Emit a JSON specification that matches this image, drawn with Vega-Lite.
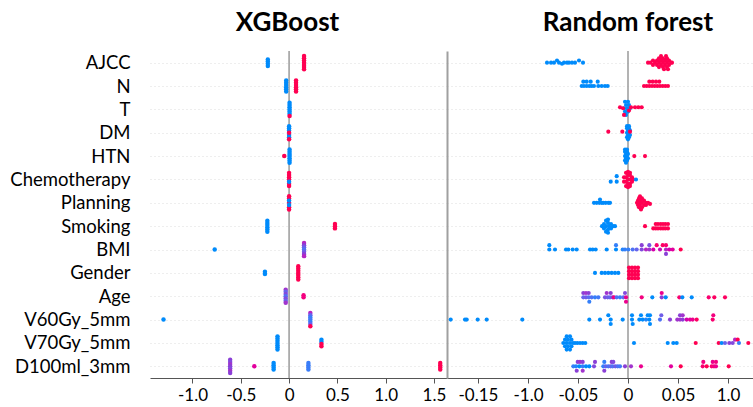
{
"$schema": "https://vega.github.io/schema/vega-lite/v6.json",
"background": "white",
"padding": {"left": 5, "right": 0, "top": 10, "bottom": 0},
"spacing": 0,
"config": {"view": {"stroke": null}, "font": "Lato"},
"resolve": {"scale": {"x": "independent", "y": "shared", "color": "shared", "yOffset": "shared"}},
"datasets": {
"xgb": [
{"f":"AJCC","x":-0.22,"v":0,"k":-1.5},{"f":"AJCC","x":-0.22,"v":0,"k":-0.5},{"f":"AJCC","x":-0.22,"v":0,"k":0.5},{"f":"AJCC","x":-0.22,"v":0,"k":1.5},
{"f":"AJCC","x":0.155,"v":1,"k":-3},{"f":"AJCC","x":0.155,"v":1,"k":-2},{"f":"AJCC","x":0.155,"v":1,"k":-1},{"f":"AJCC","x":0.155,"v":1,"k":0},{"f":"AJCC","x":0.155,"v":1,"k":1},{"f":"AJCC","x":0.155,"v":1,"k":2},{"f":"AJCC","x":0.155,"v":1,"k":3},
{"f":"N","x":-0.03,"v":0,"k":-2.5},{"f":"N","x":-0.03,"v":0,"k":-1.5},{"f":"N","x":-0.03,"v":0,"k":-0.5},{"f":"N","x":-0.03,"v":0,"k":0.5},{"f":"N","x":-0.03,"v":0,"k":1.5},{"f":"N","x":-0.03,"v":0,"k":2.5},
{"f":"N","x":0.072,"v":1,"k":-2.5},{"f":"N","x":0.072,"v":1,"k":-1.5},{"f":"N","x":0.072,"v":1,"k":-0.5},{"f":"N","x":0.072,"v":1,"k":0.5},{"f":"N","x":0.072,"v":1,"k":1.5},{"f":"N","x":0.072,"v":1,"k":2.5},
{"f":"T","x":0.005,"v":0,"k":-3},{"f":"T","x":0.005,"v":0,"k":-2},{"f":"T","x":0.005,"v":0,"k":-1},{"f":"T","x":0.005,"v":0,"k":0},{"f":"T","x":0.005,"v":0,"k":1},{"f":"T","x":0.005,"v":0,"k":2},{"f":"T","x":0.005,"v":1,"k":3},
{"f":"DM","x":0.0,"v":0,"k":-3},{"f":"DM","x":0.0,"v":0,"k":-2},{"f":"DM","x":0.0,"v":0,"k":-1},{"f":"DM","x":0.0,"v":0,"k":1},{"f":"DM","x":0.0,"v":0,"k":2},{"f":"DM","x":0.0,"v":1,"k":0},{"f":"DM","x":0.0,"v":1,"k":3},
{"f":"HTN","x":0.005,"v":0,"k":-3},{"f":"HTN","x":0.005,"v":0,"k":-2},{"f":"HTN","x":0.005,"v":0,"k":-1},{"f":"HTN","x":0.005,"v":0,"k":0},{"f":"HTN","x":0.005,"v":0,"k":1},{"f":"HTN","x":0.005,"v":0,"k":2},{"f":"HTN","x":0.005,"v":0,"k":3},{"f":"HTN","x":-0.05,"v":1,"k":0},
{"f":"Chemotherapy","x":0.0,"v":1,"k":-3},{"f":"Chemotherapy","x":0.0,"v":1,"k":-2},{"f":"Chemotherapy","x":0.0,"v":1,"k":-1},{"f":"Chemotherapy","x":0.0,"v":1,"k":0},{"f":"Chemotherapy","x":0.0,"v":1,"k":2},{"f":"Chemotherapy","x":0.0,"v":1,"k":3},{"f":"Chemotherapy","x":0.0,"v":0,"k":1},
{"f":"Planning","x":0.0,"v":1,"k":-3},{"f":"Planning","x":0.0,"v":1,"k":-2},{"f":"Planning","x":0.0,"v":1,"k":0},{"f":"Planning","x":0.0,"v":1,"k":2},{"f":"Planning","x":0.0,"v":1,"k":3},{"f":"Planning","x":0.0,"v":0,"k":-1},{"f":"Planning","x":0.0,"v":0,"k":1},
{"f":"Smoking","x":-0.225,"v":0,"k":-2.5},{"f":"Smoking","x":-0.225,"v":0,"k":-1.5},{"f":"Smoking","x":-0.225,"v":0,"k":-0.5},{"f":"Smoking","x":-0.225,"v":0,"k":0.5},{"f":"Smoking","x":-0.225,"v":0,"k":1.5},{"f":"Smoking","x":-0.225,"v":0,"k":2.5},
{"f":"Smoking","x":0.475,"v":1,"k":-1},{"f":"Smoking","x":0.475,"v":1,"k":0},{"f":"Smoking","x":0.475,"v":1,"k":1},
{"f":"BMI","x":-0.77,"v":0,"k":0},
{"f":"BMI","x":0.155,"v":0.6,"k":-3},{"f":"BMI","x":0.155,"v":0.5,"k":-2},{"f":"BMI","x":0.155,"v":0.35,"k":-1},{"f":"BMI","x":0.155,"v":0.2,"k":0},{"f":"BMI","x":0.155,"v":0.35,"k":1},{"f":"BMI","x":0.155,"v":0.5,"k":2},{"f":"BMI","x":0.155,"v":0.6,"k":3},
{"f":"Gender","x":-0.25,"v":0,"k":-0.5},{"f":"Gender","x":-0.25,"v":0,"k":0.5},
{"f":"Gender","x":0.095,"v":1,"k":-3},{"f":"Gender","x":0.095,"v":1,"k":-2},{"f":"Gender","x":0.095,"v":1,"k":-1},{"f":"Gender","x":0.095,"v":1,"k":0},{"f":"Gender","x":0.095,"v":1,"k":1},{"f":"Gender","x":0.095,"v":1,"k":2},{"f":"Gender","x":0.095,"v":1,"k":3},
{"f":"Age","x":-0.035,"v":0.55,"k":-3},{"f":"Age","x":-0.035,"v":0.3,"k":-2},{"f":"Age","x":-0.035,"v":0.45,"k":-1},{"f":"Age","x":-0.035,"v":0.2,"k":0},{"f":"Age","x":-0.035,"v":0.45,"k":1},{"f":"Age","x":-0.035,"v":0.3,"k":2},{"f":"Age","x":-0.035,"v":0.55,"k":3},
{"f":"Age","x":0.15,"v":0.85,"k":-0.5},{"f":"Age","x":0.15,"v":0.85,"k":0.5},
{"f":"V60Gy_5mm","x":-1.3,"v":0,"k":0},
{"f":"V60Gy_5mm","x":0.22,"v":0.6,"k":-3},{"f":"V60Gy_5mm","x":0.22,"v":0.3,"k":-2},{"f":"V60Gy_5mm","x":0.22,"v":0.1,"k":-1},{"f":"V60Gy_5mm","x":0.22,"v":0.15,"k":0},{"f":"V60Gy_5mm","x":0.22,"v":0.1,"k":1},{"f":"V60Gy_5mm","x":0.22,"v":0.3,"k":2},{"f":"V60Gy_5mm","x":0.22,"v":1,"k":3},
{"f":"V70Gy_5mm","x":-0.12,"v":0,"k":-3},{"f":"V70Gy_5mm","x":-0.12,"v":0,"k":-2},{"f":"V70Gy_5mm","x":-0.12,"v":0,"k":-1},{"f":"V70Gy_5mm","x":-0.12,"v":0,"k":0},{"f":"V70Gy_5mm","x":-0.12,"v":0,"k":1},{"f":"V70Gy_5mm","x":-0.12,"v":0,"k":2},{"f":"V70Gy_5mm","x":-0.12,"v":0,"k":3},
{"f":"V70Gy_5mm","x":0.335,"v":0,"k":-1.5},{"f":"V70Gy_5mm","x":0.335,"v":0,"k":-0.5},{"f":"V70Gy_5mm","x":0.335,"v":1,"k":0.5},{"f":"V70Gy_5mm","x":0.335,"v":1,"k":1.5},
{"f":"D100ml_3mm","x":-0.61,"v":0.5,"k":-3},{"f":"D100ml_3mm","x":-0.61,"v":0.45,"k":-2},{"f":"D100ml_3mm","x":-0.61,"v":0.55,"k":-1},{"f":"D100ml_3mm","x":-0.61,"v":0.5,"k":0},{"f":"D100ml_3mm","x":-0.61,"v":0.45,"k":1},{"f":"D100ml_3mm","x":-0.61,"v":0.55,"k":2},{"f":"D100ml_3mm","x":-0.61,"v":0.5,"k":3},
{"f":"D100ml_3mm","x":-0.36,"v":0.75,"k":0},
{"f":"D100ml_3mm","x":-0.16,"v":0,"k":-1.5},{"f":"D100ml_3mm","x":-0.16,"v":0,"k":-0.5},{"f":"D100ml_3mm","x":-0.16,"v":0,"k":0.5},{"f":"D100ml_3mm","x":-0.16,"v":0,"k":1.5},
{"f":"D100ml_3mm","x":0.2,"v":0.12,"k":-1.5},{"f":"D100ml_3mm","x":0.2,"v":0.12,"k":-0.5},{"f":"D100ml_3mm","x":0.2,"v":0.12,"k":0.5},{"f":"D100ml_3mm","x":0.2,"v":0.12,"k":1.5},
{"f":"D100ml_3mm","x":1.565,"v":1,"k":-1.5},{"f":"D100ml_3mm","x":1.565,"v":1,"k":-0.5},{"f":"D100ml_3mm","x":1.565,"v":1,"k":0.5},{"f":"D100ml_3mm","x":1.565,"v":1,"k":1.5}
],
"rf": [
{"f":"AJCC","x":-0.081,"v":0,"k":0},{"f":"AJCC","x":-0.077,"v":0,"k":0},{"f":"AJCC","x":-0.074,"v":0,"k":0},{"f":"AJCC","x":-0.071,"v":0,"k":-1},{"f":"AJCC","x":-0.069,"v":0,"k":0},{"f":"AJCC","x":-0.066,"v":0,"k":0.5},{"f":"AJCC","x":-0.064,"v":0,"k":0},{"f":"AJCC","x":-0.061,"v":0,"k":0},{"f":"AJCC","x":-0.059,"v":0,"k":0},{"f":"AJCC","x":-0.056,"v":0,"k":0},{"f":"AJCC","x":-0.053,"v":0,"k":0},{"f":"AJCC","x":-0.049,"v":0,"k":-1},{"f":"AJCC","x":-0.045,"v":0,"k":0},
{"f":"AJCC","x":0.020,"v":1,"k":0},{"f":"AJCC","x":0.0225,"v":1,"k":0},{"f":"AJCC","x":0.025,"v":1,"k":-1},{"f":"AJCC","x":0.025,"v":1,"k":1},{"f":"AJCC","x":0.027,"v":1,"k":0},{"f":"AJCC","x":0.029,"v":1,"k":-1},{"f":"AJCC","x":0.029,"v":1,"k":1},{"f":"AJCC","x":0.031,"v":1,"k":-2},{"f":"AJCC","x":0.031,"v":1,"k":0},{"f":"AJCC","x":0.031,"v":1,"k":2},{"f":"AJCC","x":0.033,"v":1,"k":-1},{"f":"AJCC","x":0.033,"v":1,"k":1},{"f":"AJCC","x":0.033,"v":1,"k":-3},{"f":"AJCC","x":0.035,"v":1,"k":0},{"f":"AJCC","x":0.035,"v":1,"k":-2},{"f":"AJCC","x":0.035,"v":1,"k":2},{"f":"AJCC","x":0.036,"v":1,"k":3},{"f":"AJCC","x":0.037,"v":1,"k":-1},{"f":"AJCC","x":0.037,"v":1,"k":1},{"f":"AJCC","x":0.038,"v":1,"k":-3},{"f":"AJCC","x":0.039,"v":1,"k":0},{"f":"AJCC","x":0.039,"v":1,"k":2},{"f":"AJCC","x":0.039,"v":1,"k":-2},{"f":"AJCC","x":0.040,"v":1,"k":3},{"f":"AJCC","x":0.041,"v":1,"k":-1},{"f":"AJCC","x":0.041,"v":1,"k":1},{"f":"AJCC","x":0.043,"v":1,"k":0},{"f":"AJCC","x":0.044,"v":1,"k":0},
{"f":"N","x":-0.0463,"v":0,"k":0},{"f":"N","x":-0.044,"v":0,"k":0},{"f":"N","x":-0.0413,"v":0,"k":0},{"f":"N","x":-0.0387,"v":0,"k":0},{"f":"N","x":-0.0363,"v":0,"k":0},{"f":"N","x":-0.034,"v":0,"k":0},{"f":"N","x":-0.0297,"v":0,"k":0},{"f":"N","x":-0.0263,"v":0,"k":0},{"f":"N","x":-0.023,"v":0,"k":0},{"f":"N","x":-0.0203,"v":0,"k":0},
{"f":"N","x":-0.0447,"v":0,"k":-2},{"f":"N","x":-0.0413,"v":0,"k":-2},{"f":"N","x":-0.0373,"v":0,"k":-2},{"f":"N","x":-0.0303,"v":0,"k":-2},
{"f":"N","x":0.016,"v":1,"k":0},{"f":"N","x":0.0187,"v":1,"k":0},{"f":"N","x":0.0213,"v":1,"k":0},{"f":"N","x":0.024,"v":1,"k":0},{"f":"N","x":0.0267,"v":1,"k":0},{"f":"N","x":0.0293,"v":1,"k":0},{"f":"N","x":0.032,"v":1,"k":0},{"f":"N","x":0.0347,"v":1,"k":0},{"f":"N","x":0.0373,"v":1,"k":0},{"f":"N","x":0.040,"v":1,"k":0},
{"f":"N","x":0.0213,"v":1,"k":-2},{"f":"N","x":0.0247,"v":1,"k":-2},{"f":"N","x":0.028,"v":1,"k":-2},{"f":"N","x":0.0313,"v":1,"k":-2},
{"f":"T","x":-0.003,"v":0,"k":-3.5},{"f":"T","x":0.0,"v":0,"k":-3.5},{"f":"T","x":-0.002,"v":0,"k":-2},{"f":"T","x":0.001,"v":0,"k":-2},{"f":"T","x":-0.004,"v":0,"k":-0.5},{"f":"T","x":-0.001,"v":0,"k":-0.5},{"f":"T","x":0.002,"v":0,"k":-0.5},{"f":"T","x":-0.003,"v":0,"k":1},{"f":"T","x":0.0,"v":0,"k":1},{"f":"T","x":-0.002,"v":0,"k":2.5},
{"f":"T","x":-0.008,"v":1,"k":-1},{"f":"T","x":-0.005,"v":1,"k":-0.5},{"f":"T","x":0.003,"v":1,"k":-1},{"f":"T","x":0.007,"v":1,"k":-1},{"f":"T","x":0.0103,"v":1,"k":-1},{"f":"T","x":0.0137,"v":1,"k":-1},{"f":"T","x":-0.004,"v":1,"k":2.5},{"f":"T","x":0.001,"v":1,"k":0.5},
{"f":"DM","x":-0.001,"v":0,"k":-3},{"f":"DM","x":0.001,"v":0,"k":-3},{"f":"DM","x":-0.001,"v":0,"k":-2},{"f":"DM","x":0.001,"v":0,"k":-2},{"f":"DM","x":0.0,"v":0,"k":-1},{"f":"DM","x":0.002,"v":0,"k":-1},{"f":"DM","x":-0.001,"v":0,"k":0},{"f":"DM","x":0.001,"v":0,"k":0},{"f":"DM","x":0.0,"v":0,"k":1},{"f":"DM","x":0.002,"v":0,"k":1},{"f":"DM","x":-0.001,"v":0,"k":2},{"f":"DM","x":0.001,"v":0,"k":2},{"f":"DM","x":0.0,"v":0,"k":3},
{"f":"DM","x":-0.0197,"v":1,"k":-0.5},{"f":"DM","x":-0.0057,"v":1,"k":-0.5},{"f":"DM","x":0.002,"v":1,"k":-0.5},
{"f":"HTN","x":-0.003,"v":0,"k":-3},{"f":"HTN","x":-0.001,"v":0,"k":-3},{"f":"HTN","x":-0.003,"v":0,"k":-2},{"f":"HTN","x":-0.001,"v":0,"k":-2},{"f":"HTN","x":-0.002,"v":0,"k":-1},{"f":"HTN","x":0.0,"v":0,"k":-1},{"f":"HTN","x":-0.003,"v":0,"k":0},{"f":"HTN","x":-0.001,"v":0,"k":0},{"f":"HTN","x":-0.002,"v":0,"k":1},{"f":"HTN","x":0.0,"v":0,"k":1},{"f":"HTN","x":-0.003,"v":0,"k":2},{"f":"HTN","x":-0.001,"v":0,"k":2},{"f":"HTN","x":-0.002,"v":0,"k":3},
{"f":"HTN","x":0.0063,"v":1,"k":0},{"f":"HTN","x":0.017,"v":1,"k":0},
{"f":"Chemotherapy","x":-0.0173,"v":0,"k":1},{"f":"Chemotherapy","x":-0.0113,"v":0,"k":-1.5},{"f":"Chemotherapy","x":-0.0113,"v":0,"k":1},
{"f":"Chemotherapy","x":-0.004,"v":1,"k":-1},{"f":"Chemotherapy","x":-0.004,"v":1,"k":1},{"f":"Chemotherapy","x":-0.002,"v":1,"k":-3},{"f":"Chemotherapy","x":-0.002,"v":1,"k":-1},{"f":"Chemotherapy","x":-0.002,"v":1,"k":1},{"f":"Chemotherapy","x":-0.002,"v":1,"k":3},{"f":"Chemotherapy","x":0.0,"v":1,"k":-3.5},{"f":"Chemotherapy","x":0.0,"v":1,"k":-2},{"f":"Chemotherapy","x":0.0,"v":1,"k":0},{"f":"Chemotherapy","x":0.0,"v":1,"k":2},{"f":"Chemotherapy","x":0.0,"v":1,"k":3.5},{"f":"Chemotherapy","x":0.002,"v":1,"k":-2},{"f":"Chemotherapy","x":0.002,"v":1,"k":0},{"f":"Chemotherapy","x":0.002,"v":1,"k":2},{"f":"Chemotherapy","x":0.002,"v":1,"k":-3},{"f":"Chemotherapy","x":0.002,"v":1,"k":3},{"f":"Chemotherapy","x":0.004,"v":1,"k":-1},{"f":"Chemotherapy","x":0.004,"v":1,"k":1},{"f":"Chemotherapy","x":0.005,"v":1,"k":0},
{"f":"Chemotherapy","x":0.008,"v":0,"k":0},
{"f":"Planning","x":-0.034,"v":0,"k":0},{"f":"Planning","x":-0.0313,"v":0,"k":0},{"f":"Planning","x":-0.0287,"v":0,"k":0},{"f":"Planning","x":-0.028,"v":0,"k":-1.5},{"f":"Planning","x":-0.0263,"v":0,"k":0},{"f":"Planning","x":-0.0247,"v":0,"k":0},{"f":"Planning","x":-0.0223,"v":0,"k":0},{"f":"Planning","x":-0.0197,"v":0,"k":0},{"f":"Planning","x":-0.018,"v":0,"k":0},
{"f":"Planning","x":0.009,"v":1,"k":0},{"f":"Planning","x":0.010,"v":1,"k":-1},{"f":"Planning","x":0.010,"v":1,"k":1},{"f":"Planning","x":0.011,"v":1,"k":-2},{"f":"Planning","x":0.011,"v":1,"k":0},{"f":"Planning","x":0.011,"v":1,"k":2},{"f":"Planning","x":0.012,"v":1,"k":-3},{"f":"Planning","x":0.012,"v":1,"k":-1},{"f":"Planning","x":0.012,"v":1,"k":1},{"f":"Planning","x":0.013,"v":1,"k":3},{"f":"Planning","x":0.014,"v":1,"k":-2},{"f":"Planning","x":0.014,"v":1,"k":0},{"f":"Planning","x":0.014,"v":1,"k":2},{"f":"Planning","x":0.016,"v":1,"k":-1},{"f":"Planning","x":0.016,"v":1,"k":1},{"f":"Planning","x":0.018,"v":1,"k":0},{"f":"Planning","x":0.018,"v":1,"k":1},{"f":"Planning","x":0.020,"v":1,"k":0},{"f":"Planning","x":0.022,"v":1,"k":0.5},
{"f":"Smoking","x":-0.026,"v":0,"k":0},{"f":"Smoking","x":-0.024,"v":0,"k":-1},{"f":"Smoking","x":-0.024,"v":0,"k":1},{"f":"Smoking","x":-0.022,"v":0,"k":-2.5},{"f":"Smoking","x":-0.022,"v":0,"k":0},{"f":"Smoking","x":-0.022,"v":0,"k":2.5},{"f":"Smoking","x":-0.020,"v":0,"k":-1.5},{"f":"Smoking","x":-0.020,"v":0,"k":1.5},{"f":"Smoking","x":-0.020,"v":0,"k":-3},{"f":"Smoking","x":-0.020,"v":0,"k":3},{"f":"Smoking","x":-0.019,"v":0,"k":0},{"f":"Smoking","x":-0.017,"v":0,"k":-1},{"f":"Smoking","x":-0.017,"v":0,"k":1},{"f":"Smoking","x":-0.015,"v":0,"k":0},{"f":"Smoking","x":-0.013,"v":0,"k":0},
{"f":"Smoking","x":0.017,"v":1,"k":0},
{"f":"Smoking","x":0.0253,"v":1,"k":1},{"f":"Smoking","x":0.0277,"v":1,"k":1},{"f":"Smoking","x":0.030,"v":1,"k":1},{"f":"Smoking","x":0.0327,"v":1,"k":1},{"f":"Smoking","x":0.035,"v":1,"k":1},{"f":"Smoking","x":0.0373,"v":1,"k":1},{"f":"Smoking","x":0.040,"v":1,"k":1},
{"f":"Smoking","x":0.0277,"v":1,"k":-1},{"f":"Smoking","x":0.030,"v":1,"k":-1},{"f":"Smoking","x":0.0327,"v":1,"k":-1},{"f":"Smoking","x":0.035,"v":1,"k":-1},{"f":"Smoking","x":0.0373,"v":1,"k":-1},{"f":"Smoking","x":0.040,"v":1,"k":-1},
{"f":"BMI","x":-0.0787,"v":0,"k":-2},{"f":"BMI","x":-0.0787,"v":0,"k":0},{"f":"BMI","x":-0.073,"v":0,"k":0},{"f":"BMI","x":-0.062,"v":0,"k":0},{"f":"BMI","x":-0.0597,"v":0,"k":0},{"f":"BMI","x":-0.0553,"v":0,"k":0},{"f":"BMI","x":-0.0513,"v":0,"k":0},{"f":"BMI","x":-0.038,"v":0,"k":0},{"f":"BMI","x":-0.0353,"v":0,"k":0},{"f":"BMI","x":-0.0323,"v":0,"k":0},{"f":"BMI","x":-0.0213,"v":0,"k":0},{"f":"BMI","x":-0.012,"v":0.1,"k":-2},{"f":"BMI","x":-0.012,"v":0,"k":0},{"f":"BMI","x":-0.0053,"v":0.05,"k":0},{"f":"BMI","x":-0.003,"v":0.1,"k":0},{"f":"BMI","x":0.0003,"v":0.1,"k":0},{"f":"BMI","x":0.0047,"v":0.2,"k":0},{"f":"BMI","x":0.0087,"v":0.3,"k":0},
{"f":"BMI","x":0.0137,"v":0.5,"k":-2},{"f":"BMI","x":0.0137,"v":0.45,"k":0},{"f":"BMI","x":0.018,"v":0.6,"k":0},{"f":"BMI","x":0.0213,"v":0.4,"k":-2},{"f":"BMI","x":0.0213,"v":0.55,"k":0},{"f":"BMI","x":0.0253,"v":0.7,"k":0},{"f":"BMI","x":0.0287,"v":0.9,"k":-2},{"f":"BMI","x":0.032,"v":0.65,"k":0},{"f":"BMI","x":0.0347,"v":0.95,"k":-2},{"f":"BMI","x":0.038,"v":0.9,"k":-2},{"f":"BMI","x":0.038,"v":0.6,"k":0},{"f":"BMI","x":0.038,"v":0.5,"k":2},{"f":"BMI","x":0.0413,"v":0.7,"k":0},{"f":"BMI","x":0.0447,"v":0.75,"k":0},{"f":"BMI","x":0.0527,"v":1,"k":0},
{"f":"Gender","x":-0.033,"v":0,"k":0},{"f":"Gender","x":-0.0263,"v":0,"k":0},{"f":"Gender","x":-0.023,"v":0,"k":0},{"f":"Gender","x":-0.0197,"v":0,"k":0},{"f":"Gender","x":-0.0163,"v":0,"k":0},{"f":"Gender","x":-0.013,"v":0,"k":0},{"f":"Gender","x":-0.0097,"v":0,"k":0},
{"f":"Gender","x":0.001,"v":1,"k":-2.4},{"f":"Gender","x":0.004,"v":1,"k":-2.4},{"f":"Gender","x":0.007,"v":1,"k":-2.4},{"f":"Gender","x":0.010,"v":1,"k":-2.4},
{"f":"Gender","x":0.001,"v":1,"k":-0.8},{"f":"Gender","x":0.004,"v":1,"k":-0.8},{"f":"Gender","x":0.007,"v":1,"k":-0.8},{"f":"Gender","x":0.010,"v":1,"k":-0.8},
{"f":"Gender","x":0.001,"v":1,"k":0.8},{"f":"Gender","x":0.004,"v":1,"k":0.8},{"f":"Gender","x":0.007,"v":1,"k":0.8},{"f":"Gender","x":0.010,"v":1,"k":0.8},
{"f":"Gender","x":0.001,"v":1,"k":2.4},{"f":"Gender","x":0.004,"v":1,"k":2.4},{"f":"Gender","x":0.007,"v":1,"k":2.4},{"f":"Gender","x":0.010,"v":1,"k":2.4},
{"f":"Age","x":-0.0447,"v":0.5,"k":-1.5},{"f":"Age","x":-0.042,"v":0.55,"k":-1.5},{"f":"Age","x":-0.0393,"v":0.5,"k":-1.5},{"f":"Age","x":-0.0213,"v":0.55,"k":-1.5},{"f":"Age","x":-0.0173,"v":0.5,"k":-1.5},{"f":"Age","x":-0.003,"v":0.45,"k":-1.5},{"f":"Age","x":0.0337,"v":0.8,"k":-1.5},
{"f":"Age","x":-0.0447,"v":0.3,"k":0.5},{"f":"Age","x":-0.042,"v":0.35,"k":0.5},{"f":"Age","x":-0.0393,"v":0.25,"k":0.5},{"f":"Age","x":-0.0363,"v":0.2,"k":0.5},{"f":"Age","x":-0.033,"v":0.1,"k":0.5},{"f":"Age","x":-0.0297,"v":0.15,"k":0.5},{"f":"Age","x":-0.023,"v":0.4,"k":0.5},{"f":"Age","x":-0.0203,"v":0.35,"k":0.5},{"f":"Age","x":-0.018,"v":0.3,"k":0.5},{"f":"Age","x":-0.0153,"v":0.5,"k":0.5},{"f":"Age","x":-0.014,"v":0.85,"k":0.5},{"f":"Age","x":-0.0113,"v":0.2,"k":0.5},{"f":"Age","x":-0.008,"v":0.1,"k":0.5},{"f":"Age","x":-0.0047,"v":0.25,"k":0.5},{"f":"Age","x":-0.002,"v":0.8,"k":0.5},{"f":"Age","x":0.0137,"v":0.85,"k":0.5},{"f":"Age","x":0.0243,"v":0,"k":0.5},{"f":"Age","x":0.0337,"v":0.5,"k":0.5},{"f":"Age","x":0.0377,"v":0,"k":0.5},{"f":"Age","x":0.0513,"v":0.9,"k":0.5},{"f":"Age","x":0.0543,"v":0,"k":0.5},{"f":"Age","x":0.0637,"v":0,"k":0.5},{"f":"Age","x":0.0807,"v":0.9,"k":0.5},{"f":"Age","x":0.0863,"v":0.95,"k":0.5},{"f":"Age","x":0.097,"v":0.95,"k":0.5},
{"f":"Age","x":-0.0387,"v":0.1,"k":2.5},{"f":"Age","x":-0.002,"v":0.8,"k":2.5},
{"f":"V60Gy_5mm","x":-0.1773,"v":0,"k":0},{"f":"V60Gy_5mm","x":-0.163,"v":0,"k":0},{"f":"V60Gy_5mm","x":-0.1613,"v":0,"k":0},{"f":"V60Gy_5mm","x":-0.1503,"v":0,"k":0},{"f":"V60Gy_5mm","x":-0.1413,"v":0,"k":0},{"f":"V60Gy_5mm","x":-0.1057,"v":0,"k":0},{"f":"V60Gy_5mm","x":-0.0387,"v":0,"k":0},{"f":"V60Gy_5mm","x":-0.028,"v":0,"k":0},{"f":"V60Gy_5mm","x":-0.0173,"v":0,"k":0},{"f":"V60Gy_5mm","x":-0.0053,"v":0,"k":0},{"f":"V60Gy_5mm","x":0.004,"v":0,"k":0},{"f":"V60Gy_5mm","x":0.0113,"v":0,"k":0},{"f":"V60Gy_5mm","x":0.0147,"v":0,"k":0},{"f":"V60Gy_5mm","x":0.018,"v":0.05,"k":0},{"f":"V60Gy_5mm","x":0.0213,"v":0,"k":0},{"f":"V60Gy_5mm","x":0.032,"v":0.2,"k":0},{"f":"V60Gy_5mm","x":0.042,"v":0.5,"k":0},{"f":"V60Gy_5mm","x":0.0493,"v":0.55,"k":0},{"f":"V60Gy_5mm","x":0.052,"v":0.55,"k":0},{"f":"V60Gy_5mm","x":0.0547,"v":0.5,"k":0},{"f":"V60Gy_5mm","x":0.0587,"v":0.7,"k":0},{"f":"V60Gy_5mm","x":0.062,"v":0.75,"k":0},{"f":"V60Gy_5mm","x":0.0647,"v":0.8,"k":0},{"f":"V60Gy_5mm","x":0.0687,"v":0.95,"k":0},{"f":"V60Gy_5mm","x":0.0847,"v":0.9,"k":0},
{"f":"V60Gy_5mm","x":-0.0197,"v":0,"k":-2},{"f":"V60Gy_5mm","x":0.004,"v":0,"k":-2},{"f":"V60Gy_5mm","x":0.013,"v":0,"k":-2},{"f":"V60Gy_5mm","x":0.0197,"v":0,"k":-2},{"f":"V60Gy_5mm","x":0.022,"v":0,"k":-2},{"f":"V60Gy_5mm","x":0.0333,"v":0.35,"k":-2},{"f":"V60Gy_5mm","x":0.052,"v":0.5,"k":-2},{"f":"V60Gy_5mm","x":0.0547,"v":0.55,"k":-2},{"f":"V60Gy_5mm","x":0.0853,"v":0.85,"k":-2},
{"f":"V60Gy_5mm","x":-0.0173,"v":0,"k":2},{"f":"V60Gy_5mm","x":0.0047,"v":0,"k":2},{"f":"V60Gy_5mm","x":0.022,"v":0,"k":2},
{"f":"V70Gy_5mm","x":-0.0647,"v":0,"k":0},{"f":"V70Gy_5mm","x":-0.063,"v":0,"k":-1.5},{"f":"V70Gy_5mm","x":-0.063,"v":0,"k":1.5},{"f":"V70Gy_5mm","x":-0.0613,"v":0,"k":-3},{"f":"V70Gy_5mm","x":-0.0613,"v":0,"k":0},{"f":"V70Gy_5mm","x":-0.0613,"v":0,"k":3},{"f":"V70Gy_5mm","x":-0.060,"v":0,"k":-1.5},{"f":"V70Gy_5mm","x":-0.060,"v":0,"k":1.5},{"f":"V70Gy_5mm","x":-0.058,"v":0,"k":0},{"f":"V70Gy_5mm","x":-0.058,"v":0,"k":-3},{"f":"V70Gy_5mm","x":-0.058,"v":0,"k":3},{"f":"V70Gy_5mm","x":-0.0565,"v":0,"k":-1.5},{"f":"V70Gy_5mm","x":-0.0565,"v":0,"k":1.5},{"f":"V70Gy_5mm","x":-0.055,"v":0,"k":0},{"f":"V70Gy_5mm","x":-0.053,"v":0,"k":0},{"f":"V70Gy_5mm","x":-0.0507,"v":0,"k":0},{"f":"V70Gy_5mm","x":-0.048,"v":0,"k":0},{"f":"V70Gy_5mm","x":-0.0453,"v":0,"k":0},{"f":"V70Gy_5mm","x":-0.0427,"v":0,"k":0},
{"f":"V70Gy_5mm","x":0.006,"v":0,"k":0},{"f":"V70Gy_5mm","x":0.0397,"v":0,"k":0},{"f":"V70Gy_5mm","x":0.0453,"v":0,"k":0},{"f":"V70Gy_5mm","x":0.0487,"v":0,"k":0},{"f":"V70Gy_5mm","x":0.0677,"v":1,"k":0},{"f":"V70Gy_5mm","x":0.0907,"v":1,"k":0},{"f":"V70Gy_5mm","x":0.0937,"v":0,"k":0},{"f":"V70Gy_5mm","x":0.097,"v":0.3,"k":0},{"f":"V70Gy_5mm","x":0.1013,"v":0.5,"k":0},{"f":"V70Gy_5mm","x":0.1047,"v":0.45,"k":0},{"f":"V70Gy_5mm","x":0.107,"v":0.6,"k":-1.5},{"f":"V70Gy_5mm","x":0.1097,"v":1,"k":-1.5},{"f":"V70Gy_5mm","x":0.111,"v":0.1,"k":0},{"f":"V70Gy_5mm","x":0.1203,"v":1,"k":0},
{"f":"D100ml_3mm","x":-0.0547,"v":0.1,"k":0},{"f":"D100ml_3mm","x":-0.052,"v":0.05,"k":0},{"f":"D100ml_3mm","x":-0.0487,"v":0,"k":0},{"f":"D100ml_3mm","x":-0.0453,"v":0.1,"k":0},{"f":"D100ml_3mm","x":-0.042,"v":0,"k":0},{"f":"D100ml_3mm","x":-0.0387,"v":0,"k":0},{"f":"D100ml_3mm","x":-0.034,"v":0.45,"k":0},{"f":"D100ml_3mm","x":-0.0247,"v":0.1,"k":0},{"f":"D100ml_3mm","x":-0.0223,"v":0.3,"k":0},{"f":"D100ml_3mm","x":-0.0197,"v":0.2,"k":0},{"f":"D100ml_3mm","x":-0.0173,"v":0.3,"k":0},{"f":"D100ml_3mm","x":-0.0153,"v":0.2,"k":0},{"f":"D100ml_3mm","x":-0.0127,"v":0.35,"k":0},{"f":"D100ml_3mm","x":-0.0103,"v":0.2,"k":0},{"f":"D100ml_3mm","x":-0.008,"v":0.15,"k":0},{"f":"D100ml_3mm","x":-0.003,"v":0.5,"k":0},{"f":"D100ml_3mm","x":0.003,"v":0.55,"k":0},{"f":"D100ml_3mm","x":0.013,"v":0.8,"k":0},{"f":"D100ml_3mm","x":0.043,"v":0.75,"k":0},{"f":"D100ml_3mm","x":0.0527,"v":1,"k":0},{"f":"D100ml_3mm","x":0.0747,"v":0.9,"k":0},{"f":"D100ml_3mm","x":0.0787,"v":1,"k":0},{"f":"D100ml_3mm","x":0.0837,"v":0.9,"k":0},{"f":"D100ml_3mm","x":0.086,"v":0.85,"k":0},{"f":"D100ml_3mm","x":0.088,"v":0.8,"k":0},{"f":"D100ml_3mm","x":0.1007,"v":1,"k":0},
{"f":"D100ml_3mm","x":-0.0503,"v":0.5,"k":-2},{"f":"D100ml_3mm","x":-0.048,"v":0.55,"k":-2},{"f":"D100ml_3mm","x":-0.0453,"v":0.5,"k":-2},{"f":"D100ml_3mm","x":-0.033,"v":0.5,"k":-2},{"f":"D100ml_3mm","x":-0.0237,"v":0.1,"k":-2},{"f":"D100ml_3mm","x":-0.0163,"v":0.5,"k":-2},{"f":"D100ml_3mm","x":-0.0147,"v":0.45,"k":-2},{"f":"D100ml_3mm","x":0.0753,"v":0.85,"k":-2},{"f":"D100ml_3mm","x":0.0847,"v":0.8,"k":-2},{"f":"D100ml_3mm","x":0.088,"v":0.85,"k":-2},
{"f":"D100ml_3mm","x":-0.0513,"v":0.5,"k":2},{"f":"D100ml_3mm","x":-0.0453,"v":0.55,"k":2},{"f":"D100ml_3mm","x":-0.0237,"v":0.5,"k":2}
]
},
"hconcat": [
{
"width": 297, "height": 327,
"title": {"text": "XGBoost", "fontSize": 26, "fontWeight": "bold", "font": "Lato", "color": "#000", "dx": -11, "offset": 14},
"data": {"name": "xgb"},
"layer": [
{"data": {"values": [{}]}, "mark": {"type": "rule", "color": "#9a9a9a", "strokeWidth": 1.5}, "encoding": {"x": {"datum": 0, "type": "quantitative"}}},
{"mark": {"type": "circle", "size": 20, "opacity": 1},
"encoding": {
"x": {"field": "x", "type": "quantitative", "scale": {"domain": [-1.44, 1.635], "nice": false, "zero": false},
"axis": {"title": null, "values": [-1, -0.5, 0, 0.5, 1, 1.5], "labelExpr": "datum.value == 0 ? '0' : (datum.value < 0 ? '-' : '') + format(abs(datum.value), '.1f')", "labelFontSize": 17, "labelFont": "Lato", "labelColor": "#000", "domainColor": "#555", "tickColor": "#555", "tickSize": 5, "labelPadding": 4, "grid": false, "labelFlush": false, "labelOverlap": false}},
"y": {"field": "f", "type": "nominal", "sort": ["AJCC","N","T","DM","HTN","Chemotherapy","Planning","Smoking","BMI","Gender","Age","V60Gy_5mm","V70Gy_5mm","D100ml_3mm"], "scale": {"type": "point", "padding": 0.5},
"axis": {"title": null, "labelFontSize": 18.5, "labelFont": "Lato", "labelColor": "#000", "labelPadding": 20, "ticks": false, "tickSize": 0, "domain": false, "grid": true, "gridDash": [1, 3], "gridColor": "#dcdcdc", "minExtent": 145, "maxExtent": 145}},
"yOffset": {"field": "k", "type": "quantitative", "scale": {"domain": [-5, 5], "range": [-11, 11]}},
"color": {"field": "v", "type": "quantitative", "scale": {"domain": [0, 0.5, 1], "range": ["#008bfb", "#8a3fd6", "#ff0052"]}, "legend": null}
}}
]
},
{
"width": 306, "height": 327,
"title": {"text": "Random forest", "fontSize": 26, "fontWeight": "bold", "font": "Lato", "color": "#000", "dx": 28, "offset": 14},
"data": {"name": "rf"},
"layer": [
{"data": {"values": [{}]}, "mark": {"type": "rule", "color": "#9a9a9a", "strokeWidth": 1.5}, "encoding": {"x": {"datum": 0, "type": "quantitative"}}},
{"mark": {"type": "circle", "size": 17, "opacity": 1},
"encoding": {
"x": {"field": "x", "type": "quantitative", "scale": {"domain": [-0.181, 0.125], "nice": false, "zero": false},
"axis": {"title": null, "values": [-0.15, -0.1, -0.05, 0, 0.05, 0.1], "labelExpr": "datum.value == 0 ? '0' : abs(datum.value) > 0.09 && abs(datum.value) < 0.11 ? (datum.value < 0 ? '-1.0' : '1.0') : (datum.value < 0 ? '-' : '') + format(abs(datum.value), '.2f')", "labelFontSize": 17, "labelFont": "Lato", "labelColor": "#000", "domainColor": "#555", "tickColor": "#555", "tickSize": 5, "labelPadding": 4, "grid": false, "labelFlush": false, "labelOverlap": false}},
"y": {"field": "f", "type": "nominal", "sort": ["AJCC","N","T","DM","HTN","Chemotherapy","Planning","Smoking","BMI","Gender","Age","V60Gy_5mm","V70Gy_5mm","D100ml_3mm"], "scale": {"type": "point", "padding": 0.5},
"axis": {"title": null, "labels": false, "ticks": false, "tickSize": 0, "domain": true, "domainColor": "#a0a0a0", "domainWidth": 2, "grid": true, "gridDash": [1, 3], "gridColor": "#dcdcdc", "minExtent": 0, "maxExtent": 0}},
"yOffset": {"field": "k", "type": "quantitative", "scale": {"domain": [-5, 5], "range": [-11, 11]}},
"color": {"field": "v", "type": "quantitative", "scale": {"domain": [0, 0.5, 1], "range": ["#008bfb", "#8a3fd6", "#ff0052"]}, "legend": null}
}}
]
}
]
}
